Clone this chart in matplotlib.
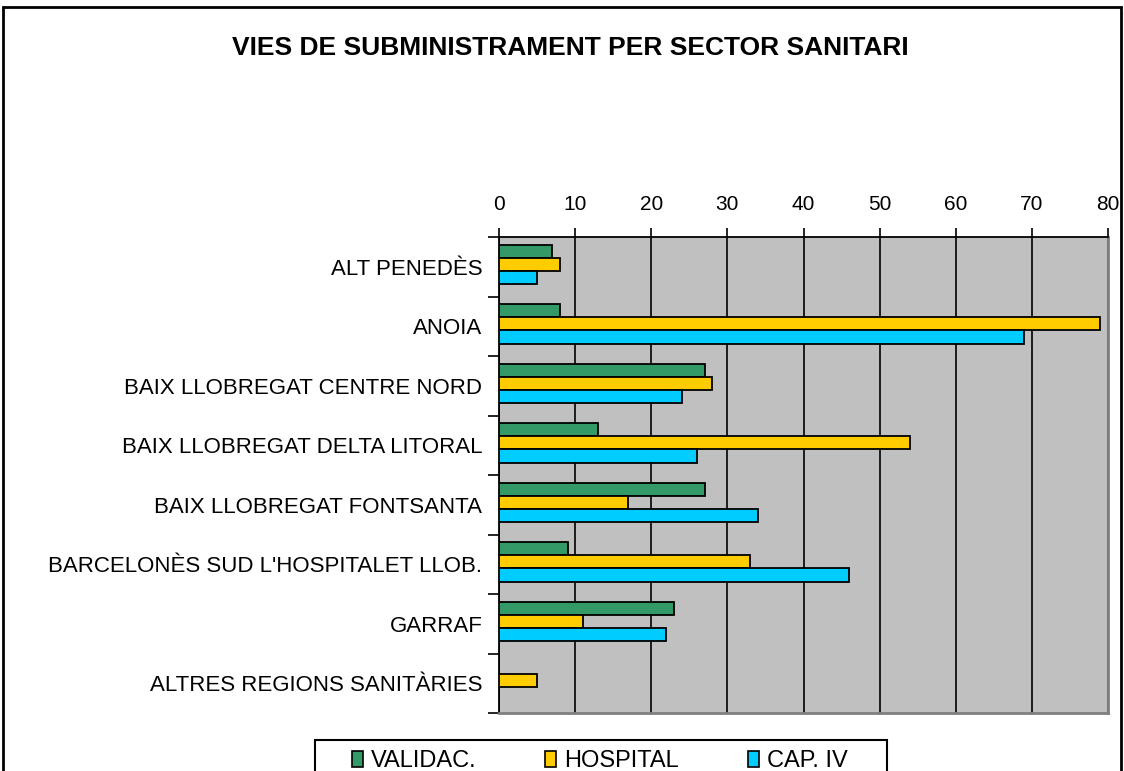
import numpy as np
import matplotlib.pyplot as plt
from matplotlib.patches import Rectangle, Patch

plt.rcParams['font.family'] = ['Liberation Sans', 'DejaVu Sans']

sectors = [
    "ALT PENEDÈS",
    "ANOIA",
    "BAIX LLOBREGAT CENTRE NORD",
    "BAIX LLOBREGAT DELTA LITORAL",
    "BAIX LLOBREGAT FONTSANTA",
    "BARCELONÈS SUD L'HOSPITALET LLOB.",
    "GARRAF",
    "ALTRES REGIONS SANITÀRIES",
]
validac = [7, 8, 27, 13, 27, 9, 23, 0]
hospital = [8, 79, 28, 54, 17, 33, 11, 5]
cap_iv = [5, 69, 24, 26, 34, 46, 22, 0]

series = [("VALIDAC.", validac, "#339966"),
          ("HOSPITAL", hospital, "#FFCC00"),
          ("CAP. IV", cap_iv, "#00CCFF")]

W, H = 1124, 771
fig = plt.figure(figsize=(W / 100, H / 100), dpi=100)
ax = fig.add_axes([499 / W, 58 / H, 609 / W, 476 / H])
ax.set_facecolor("#C0C0C0")

y = np.arange(len(sectors))
bar_h = 0.22
for i, (name, vals, color) in enumerate(series):
    vals = np.array(vals, dtype=float)
    mask = vals > 0
    ax.barh(y[mask] + (i - 1) * bar_h - 0.04, vals[mask], height=bar_h,
            color=color, edgecolor="black", linewidth=1.3, zorder=3)

ax.set_xlim(0, 80)
ax.set_ylim(len(sectors) - 0.5, -0.5)
ax.xaxis.tick_top()
ax.set_xticks(np.arange(0, 81, 10))
ax.tick_params(axis="x", length=6.5, width=1.2, pad=10, labelsize=15)
ax.grid(axis="x", color="black", linewidth=1.2, zorder=1)

ax.set_yticks(y)
ax.set_yticklabels(sectors, fontsize=16)
ax.set_yticks(np.arange(len(sectors) + 1) - 0.5, minor=True)
ax.tick_params(axis="y", which="major", length=0, pad=12)
ax.tick_params(axis="y", which="minor", length=8, width=1.2)

ax.spines["left"].set_color("black")
ax.spines["left"].set_linewidth(1.3)
ax.spines["top"].set_color("black")
ax.spines["top"].set_linewidth(1.3)
ax.spines["right"].set_color("#808080")
ax.spines["right"].set_linewidth(2)
ax.spines["bottom"].set_color("#808080")
ax.spines["bottom"].set_linewidth(2)

fig.text(0.507, 1 - 48 / H, "VIES DE SUBMINISTRAMENT PER SECTOR SANITARI",
         ha="center", va="center", fontsize=19, fontweight="bold")

# outer chart frame
fig.patches.append(Rectangle((3 / W, -0.05), 1118 / W, 1.05 - 7 / H,
                             transform=fig.transFigure, fill=False,
                             edgecolor="black", linewidth=2))

# legend frame (clipped by bottom of the image)
fig.patches.append(Rectangle((315 / W, -0.05), 572 / W, 0.05 + 31 / H,
                             transform=fig.transFigure, fill=False,
                             edgecolor="black", linewidth=1.5))

handles = [Patch(facecolor=c, edgecolor="black", linewidth=1.2, label=n)
           for n, _, c in series]
leg = fig.legend(handles=handles, loc="upper left", ncol=3,
                 bbox_to_anchor=(352 / W, 1 - 750 / H), fontsize=17,
                 frameon=False, handlelength=0.47, handleheight=0.65,
                 handletextpad=0.34, columnspacing=2.9,
                 borderpad=0, borderaxespad=0)

fig.savefig("out.png", dpi=100)
